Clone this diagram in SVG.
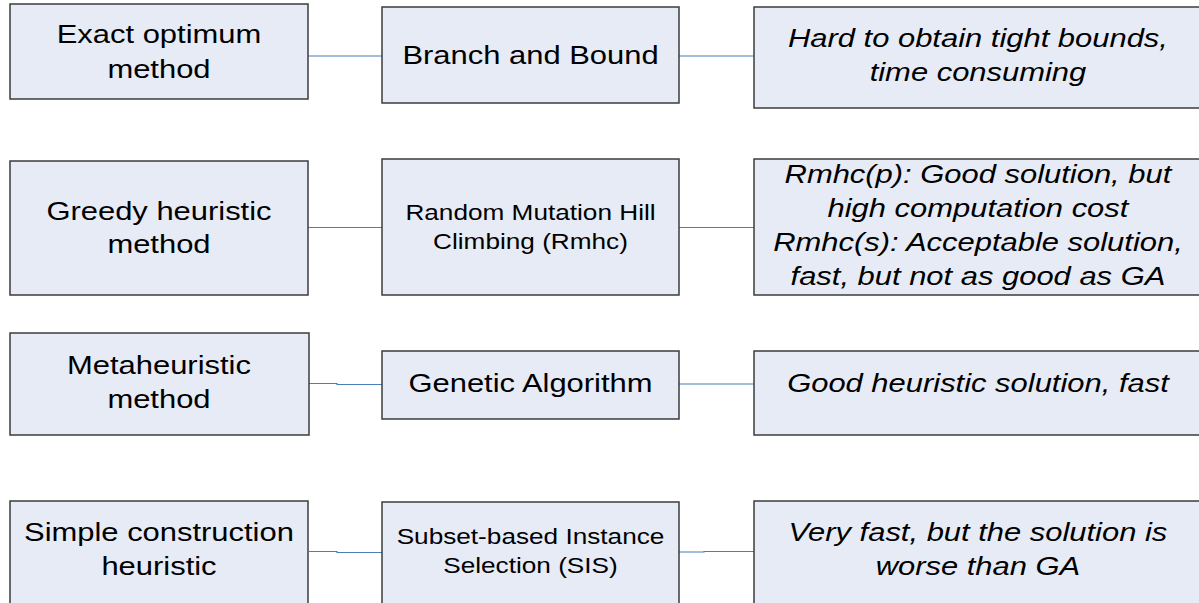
<svg xmlns="http://www.w3.org/2000/svg" width="1199" height="603" viewBox="0 0 1199 603">
<style>
  .box { fill: #e7ebf6; stroke: #3c3c3c; stroke-width: 1.5; }
  .t { font-family: "Liberation Sans", Arial, sans-serif; font-size: 26px; fill: #000; text-anchor: middle; }
  .s { font-size: 22px; }
  .i { font-style: italic; }
  .c { fill: none; stroke: #4a7ebb; stroke-width: 1.2; }
</style>
<rect width="1199" height="603" fill="#ffffff"/>
<g id="connectors">
  <path class="c" d="M308,56 H382"/>
  <path class="c" d="M679,56 H754"/>
  <path class="c" d="M305.5,232 V227.5 H382"/>
  <path class="c" d="M679,227.5 H754"/>
  <path class="c" d="M309,383.5 H337 V384.5 H382"/>
  <path class="c" d="M679,384 H754"/>
  <path class="c" d="M309,551.5 H337 V552.5 H382"/>
  <path class="c" d="M679,552 H704 V551.5 H754"/>
</g>
<g id="exact">
  <rect class="box" x="10" y="4" width="298" height="95"/>
  <text class="t" transform="scale(1.19 1)"><tspan x="133.6" y="43">Exact optimum</tspan><tspan x="133.6" y="78">method</tspan></text>
</g>
<g id="bnb">
  <rect class="box" x="382" y="7" width="297" height="96"/>
  <text class="t" transform="scale(1.19 1)" x="445.8" y="64">Branch and Bound</text>
</g>
<g id="bnb-note">
  <rect class="box" x="754" y="7" width="460" height="101"/>
  <text class="t i" transform="scale(1.19 1)"><tspan x="821.8" y="47">Hard to obtain tight bounds,</tspan><tspan x="821.8" y="81">time consuming</tspan></text>
</g>
<g id="greedy">
  <rect class="box" x="10" y="161" width="298" height="134"/>
  <text class="t" transform="scale(1.19 1)"><tspan x="133.6" y="220">Greedy heuristic</tspan><tspan x="133.6" y="253">method</tspan></text>
</g>
<g id="rmhc">
  <rect class="box" x="382" y="159" width="297" height="136"/>
  <text class="t s" transform="scale(1.19 1)"><tspan x="445.8" y="220">Random Mutation Hill</tspan><tspan x="445.8" y="249">Climbing (Rmhc)</tspan></text>
</g>
<g id="rmhc-note">
  <rect class="box" x="754" y="159" width="460" height="136"/>
  <text class="t i" transform="scale(1.19 1)"><tspan x="821.8" y="183">Rmhc(p): Good solution, but</tspan><tspan x="821.8" y="217">high computation cost</tspan><tspan x="821.8" y="251">Rmhc(s): Acceptable solution,</tspan><tspan x="821.8" y="285">fast, but not as good as GA</tspan></text>
</g>
<g id="meta">
  <rect class="box" x="10" y="333" width="299" height="102"/>
  <text class="t" transform="scale(1.19 1)"><tspan x="133.6" y="374">Metaheuristic</tspan><tspan x="133.6" y="408">method</tspan></text>
</g>
<g id="ga">
  <rect class="box" x="382" y="351" width="297" height="68"/>
  <text class="t" transform="scale(1.19 1)" x="445.8" y="392">Genetic Algorithm</text>
</g>
<g id="ga-note">
  <rect class="box" x="754" y="351" width="460" height="84"/>
  <text class="t i" transform="scale(1.19 1)" x="821.8" y="392">Good heuristic solution, fast</text>
</g>
<g id="simple">
  <rect class="box" x="10" y="501" width="298" height="120"/>
  <text class="t" transform="scale(1.19 1)"><tspan x="133.6" y="541">Simple construction</tspan><tspan x="133.6" y="575">heuristic</tspan></text>
</g>
<g id="sis">
  <rect class="box" x="382" y="502" width="297" height="120"/>
  <text class="t s" transform="scale(1.19 1)"><tspan x="445.8" y="544">Subset-based Instance</tspan><tspan x="445.8" y="573">Selection (SIS)</tspan></text>
</g>
<g id="sis-note">
  <rect class="box" x="754" y="501" width="460" height="120"/>
  <text class="t i" transform="scale(1.19 1)"><tspan x="821.8" y="541">Very fast, but the solution is</tspan><tspan x="821.8" y="575">worse than GA</tspan></text>
</g>
</svg>
